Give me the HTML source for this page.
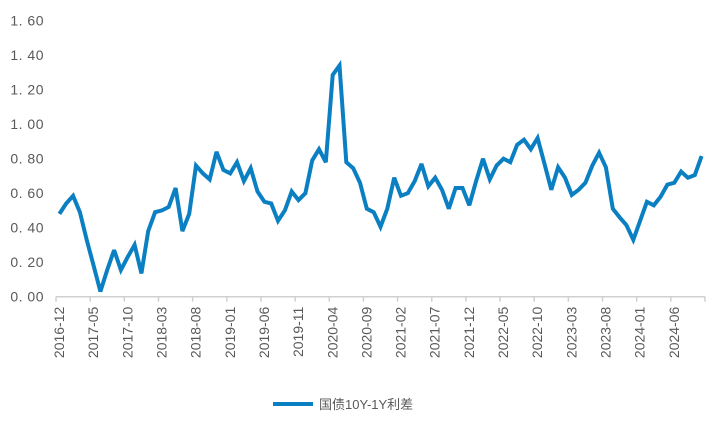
<!DOCTYPE html>
<html><head><meta charset="utf-8"><style>
body{margin:0;background:#fff;}
svg text{font-family:"Liberation Sans","Noto Sans CJK SC",sans-serif;fill:#595959;}
</style></head><body>
<svg id="chart" width="720" height="432" xmlns="http://www.w3.org/2000/svg"></svg>
<script>
const categories = [];
(function(){let y=2016,m=12;for(let i=0;i<95;i++){categories.push(y+'-'+String(m).padStart(2,'0'));m++;if(m>12){m=1;y++;}}})();
const spreadValues = [0.48,0.54,0.585,0.49,0.33,0.18,0.03,0.155,0.27,0.155,0.23,0.30,0.135,0.38,0.49,0.50,0.52,0.63,0.38,0.48,
0.76,0.715,0.68,0.84,0.735,0.715,0.78,0.67,0.745,0.61,0.55,0.54,0.44,0.50,0.61,0.56,0.60,0.79,0.855,0.78,
1.285,1.34,0.78,0.745,0.66,0.51,0.49,0.405,0.51,0.69,0.585,0.60,0.67,0.77,0.64,0.69,0.62,0.51,0.63,0.63,
0.53,0.67,0.80,0.68,0.76,0.80,0.78,0.88,0.91,0.855,0.92,0.77,0.62,0.75,0.69,0.59,0.62,0.66,0.76,0.835,
0.75,0.51,0.46,0.415,0.33,0.44,0.55,0.53,0.58,0.65,0.66,0.725,0.69,0.705,0.815];
const yTicks = [0,0.2,0.4,0.6,0.8,1.0,1.2,1.4,1.6];
const seriesName = '国债10Y-1Y利差';

const svg = document.getElementById('chart');
const NS='http://www.w3.org/2000/svg';
const X0=56, X1=705, Y0=296.7, YTOP=20.7, YMAX=1.6;
const band=(X1-X0)/categories.length;
const xPos=i=>X0+band*(i+0.5);
const yPos=v=>Y0-(v/YMAX)*(Y0-YTOP);
function mk(t,a){const e=document.createElementNS(NS,t);for(const k in a)e.setAttribute(k,a[k]);svg.appendChild(e);return e;}

yTicks.forEach(v=>{
  const t=mk('text',{x:44,y:yPos(v)+5,'text-anchor':'end','font-size':14,'letter-spacing':'0.5'});
  
  
  t.textContent=v.toFixed(2).replace('.','. ');
});
const ax=mk('line',{x1:X0,x2:X1,y1:Y0,y2:Y0,stroke:'#d0d0d0','stroke-width':1.5});


for(let i=0;i<=categories.length;i+=5){
  const x=X0+band*i;
  const tk=mk('line',{x1:x,x2:x,y1:Y0,y2:Y0+5,stroke:'#d0d0d0','stroke-width':1.5});
  
  
  if(i<categories.length){
    const cx=x+3;
    const t=mk('text',{x:0,y:0,'text-anchor':'end','font-size':14,transform:`translate(${cx+5},${Y0+10}) rotate(-90)`});
    
    
    t.textContent=categories[i];
  }
}
const d=spreadValues.map((v,i)=>(i?'L':'M')+xPos(i).toFixed(1)+' '+yPos(v).toFixed(1)).join(' ');
const p=mk('path',{d:d,fill:'none',stroke:'#0a7fc2','stroke-width':4,'stroke-linejoin':'miter','stroke-miterlimit':3});


const ll=mk('line',{x1:273,x2:313,y1:404,y2:404,stroke:'#0a7fc2','stroke-width':4});


const lt=mk('text',{x:319,y:409,'font-size':13});


lt.textContent=seriesName;
</script>
</body></html>
